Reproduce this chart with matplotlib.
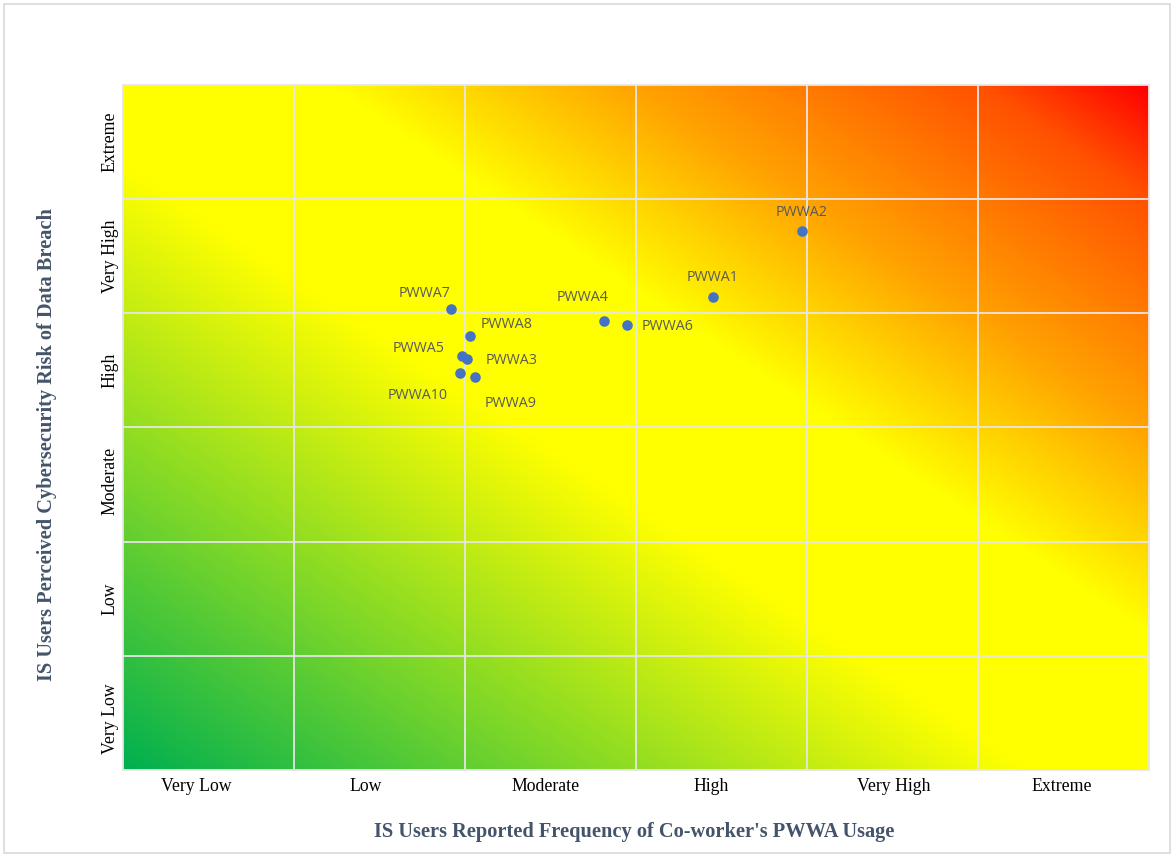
import matplotlib
matplotlib.use("Agg")
import matplotlib.pyplot as plt
import numpy as np
from matplotlib.colors import LinearSegmentedColormap
from matplotlib.patches import Rectangle

# rating scale used on both axes
LEVELS = ["Very Low", "Low", "Moderate", "High", "Very High", "Extreme"]
# hand-placed label positions along each axis (0-6 scale)
X_LABEL_POS = [0.43, 1.42, 2.47, 3.44, 4.51, 5.49]
Y_LABEL_POS = [0.45, 1.5, 2.53, 3.5, 4.5, 5.5]

# PWWA positions (usage frequency, perceived risk) on a 0-6 scale
NAMES = ["PWWA1", "PWWA2", "PWWA3", "PWWA4", "PWWA5",
         "PWWA6", "PWWA7", "PWWA8", "PWWA9", "PWWA10"]
FREQ = [3.45, 3.97, 2.01, 2.81, 1.98, 2.95, 1.92, 2.03, 2.06, 1.97]
RISK = [4.14, 4.72, 3.60, 3.93, 3.63, 3.90, 4.04, 3.80, 3.44, 3.48]

# label offsets in pixels so the clustered names don't collide
OFFS = {"PWWA1": (0, 20), "PWWA2": (0, 19), "PWWA3": (45, -2),
        "PWWA4": (-21, 24), "PWWA5": (-43, 7), "PWWA6": (40, -2),
        "PWWA7": (-27, 15), "PWWA8": (36, 12), "PWWA9": (35, -26),
        "PWWA10": (-42, -23)}

TITLE_C = "#44546A"
GRID_C = "#e6e6e6"
DOT_C = "#4472C4"

heat = LinearSegmentedColormap.from_list("risk", [
    (0.00, "#00B050"), (0.44, "#FFFF00"), (0.60, "#FFFF00"),
    (0.75, "#FFA200"), (0.92, "#FF5000"), (1.00, "#FF0000")])

fig = plt.figure(figsize=(11.76, 8.57), dpi=100)
ax = fig.add_axes([123 / 1176, 1 - 770 / 857, 1026 / 1176, 685 / 857])

# diagonal heat background: green bottom-left, yellow band, red top-right
u = np.linspace(0, 1, 600)
v = np.linspace(0, 1, 400)
U, V = np.meshgrid(u, v)
ax.imshow((U + V) / 2, cmap=heat, vmin=0, vmax=1, origin="lower",
          extent=(0, 6, 0, 6), aspect="auto", interpolation="bilinear",
          zorder=0)

for k in range(1, 6):
    ax.axvline(k, color=GRID_C, lw=1.3, zorder=1)
    ax.axhline(k, color=GRID_C, lw=1.3, zorder=1)

ax.scatter(FREQ, RISK, s=58, color=DOT_C, zorder=3, linewidths=0)
for n, x, y in zip(NAMES, FREQ, RISK):
    ax.annotate(n, (x, y), xytext=OFFS[n], textcoords="offset pixels",
                ha="center", va="center", color="#595959", fontsize=10.3,
                family="Open Sans", zorder=4)

ax.set_xlim(0, 6)
ax.set_ylim(0, 6)
ax.set_xticks(X_LABEL_POS)
ax.set_xticklabels(LEVELS, family="Liberation Serif", fontsize=12.8)
ax.set_yticks(Y_LABEL_POS)
ax.set_yticklabels(LEVELS, family="Liberation Serif", fontsize=12.8,
                   rotation=90, va="center")
ax.tick_params(length=0)
ax.tick_params(axis="x", pad=6)
ax.tick_params(axis="y", pad=3)
for s in ax.spines.values():
    s.set_color(GRID_C)
    s.set_linewidth(1.3)

fig.text(634 / 1176, 1 - 832 / 857,
         "IS Users Reported Frequency of Co-worker's PWWA Usage",
         ha="center", va="center", color=TITLE_C, fontsize=14.7,
         fontweight="bold", family="Liberation Serif")
fig.text(47 / 1176, 1 - 445 / 857,
         "IS Users Perceived Cybersecurity Risk of Data Breach",
         ha="center", va="center", rotation=90, color=TITLE_C, fontsize=14.7,
         fontweight="bold", family="Liberation Serif")

# thin frame round the whole chart
fig.add_artist(Rectangle((4 / 1176, 4 / 857), 1166 / 1176, 849 / 857,
                         transform=fig.transFigure, fill=False,
                         edgecolor="#d9d9d9", lw=1.2))

fig.savefig("out.png", dpi=100, facecolor="white")
